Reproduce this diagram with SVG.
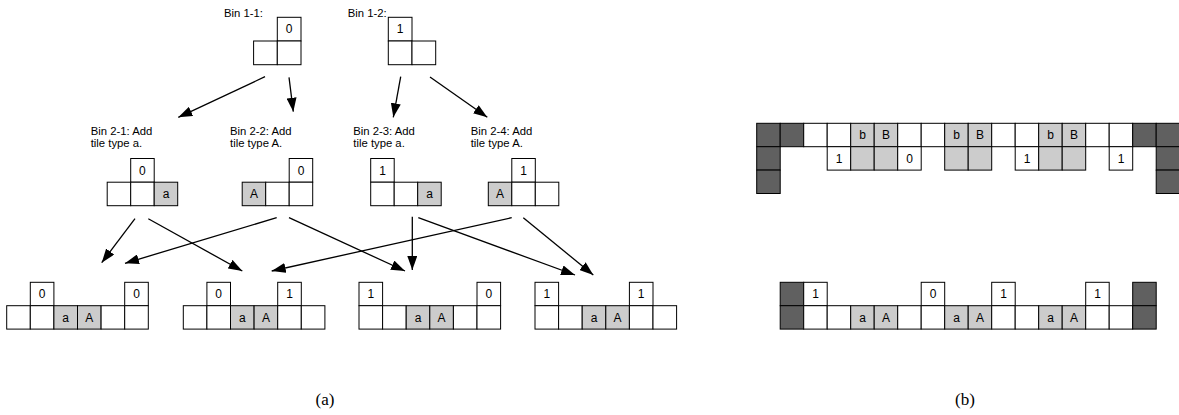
<svg xmlns="http://www.w3.org/2000/svg" width="1179" height="415" viewBox="0 0 1179 415">
<style>
rect{stroke:#000;stroke-width:1;fill:#fff}
rect.g{fill:#ccc}
rect.d{fill:#606060}
text{font-family:"Liberation Sans",Arial,sans-serif;font-size:11.3px;fill:#000}
text.c{text-anchor:middle;font-size:12px}
text.cap{font-family:"Liberation Serif","Times New Roman",serif;font-size:17px;text-anchor:middle}
.conn line{stroke:#000;stroke-width:1.3;marker-end:url(#ah)}
</style>
<defs>
<marker id="ah" markerUnits="userSpaceOnUse" markerWidth="14" markerHeight="10" refX="14" refY="5" orient="auto">
<path d="M0,0 L14,5 L0,10 Z" fill="#000"/>
</marker>
</defs>
<rect x="0" y="0" width="1179" height="415" style="stroke:none;fill:#fff"/>

<g id="bin1-1">
<text x="224" y="16.5">Bin 1-1:</text>
<rect x="277.3" y="17.3" width="23.7" height="23.7"/><text class="c" x="289.2" y="33.3">0</text>
<rect x="253.6" y="41" width="23.7" height="23.7"/>
<rect x="277.3" y="41" width="23.7" height="23.7"/>
</g>
<g id="bin1-2">
<text x="347.7" y="16.5">Bin 1-2:</text>
<rect x="388.3" y="17.3" width="23.7" height="23.7"/><text class="c" x="400.2" y="33.3">1</text>
<rect x="388.3" y="41" width="23.7" height="23.7"/>
<rect x="412" y="41" width="23.7" height="23.7"/>
</g>

<g id="bin2-1">
<text x="90.7" y="135">Bin 2-1: Add</text>
<text x="90.7" y="146.5">tile type a.</text>
<rect x="130.7" y="158.5" width="23.5" height="23.7"/><text class="c" x="142.4" y="174.5">0</text>
<rect x="107.2" y="182.2" width="23.5" height="23.5"/>
<rect x="130.7" y="182.2" width="23.5" height="23.5"/>
<rect class="g" x="154.2" y="182.2" width="23.5" height="23.5"/><text class="c" x="166" y="198.3">a</text>
</g>
<g id="bin2-2">
<text x="230" y="135">Bin 2-2: Add</text>
<text x="230" y="146.5">tile type A.</text>
<rect x="289.2" y="158.5" width="23.5" height="23.7"/><text class="c" x="301" y="174.5">0</text>
<rect class="g" x="242.2" y="182.2" width="23.5" height="23.5"/><text class="c" x="254" y="198.3">A</text>
<rect x="265.7" y="182.2" width="23.5" height="23.5"/>
<rect x="289.2" y="182.2" width="23.5" height="23.5"/>
</g>
<g id="bin2-3">
<text x="353.3" y="135">Bin 2-3: Add</text>
<text x="353.3" y="146.5">tile type a.</text>
<rect x="370.7" y="158.5" width="23.5" height="23.7"/><text class="c" x="382.5" y="174.5">1</text>
<rect x="370.7" y="182.2" width="23.5" height="23.5"/>
<rect x="394.2" y="182.2" width="23.5" height="23.5"/>
<rect class="g" x="417.7" y="182.2" width="23.5" height="23.5"/><text class="c" x="429.5" y="198.3">a</text>
</g>
<g id="bin2-4">
<text x="470.7" y="135">Bin 2-4: Add</text>
<text x="470.7" y="146.5">tile type A.</text>
<rect x="511.8" y="158.5" width="23.5" height="23.7"/><text class="c" x="523.6" y="174.5">1</text>
<rect class="g" x="488.3" y="182.2" width="23.5" height="23.5"/><text class="c" x="500" y="198.3">A</text>
<rect x="511.8" y="182.2" width="23.5" height="23.5"/>
<rect x="535.3" y="182.2" width="23.5" height="23.5"/>
</g>

<g id="res1">
<rect x="30.3" y="282.3" width="23.6" height="23.4"/><text class="c" x="42.1" y="298.3">0</text>
<rect x="124.7" y="282.3" width="23.6" height="23.4"/><text class="c" x="136.5" y="298.3">0</text>
<rect x="6.7" y="305.7" width="23.6" height="23.4"/>
<rect x="30.3" y="305.7" width="23.6" height="23.4"/>
<rect class="g" x="53.9" y="305.7" width="23.6" height="23.4"/><text class="c" x="65.7" y="321.7">a</text>
<rect class="g" x="77.5" y="305.7" width="23.6" height="23.4"/><text class="c" x="89.3" y="321.7">A</text>
<rect x="101.1" y="305.7" width="23.6" height="23.4"/>
<rect x="124.7" y="305.7" width="23.6" height="23.4"/>
</g>
<g id="res2">
<rect x="206.9" y="282.3" width="23.6" height="23.4"/><text class="c" x="218.7" y="298.3">0</text>
<rect x="277.7" y="282.3" width="23.6" height="23.4"/><text class="c" x="289.5" y="298.3">1</text>
<rect x="183.3" y="305.7" width="23.6" height="23.4"/>
<rect x="206.9" y="305.7" width="23.6" height="23.4"/>
<rect class="g" x="230.5" y="305.7" width="23.6" height="23.4"/><text class="c" x="242.3" y="321.7">a</text>
<rect class="g" x="254.1" y="305.7" width="23.6" height="23.4"/><text class="c" x="265.9" y="321.7">A</text>
<rect x="277.7" y="305.7" width="23.6" height="23.4"/>
<rect x="301.3" y="305.7" width="23.6" height="23.4"/>
</g>
<g id="res3">
<rect x="359" y="282.3" width="23.6" height="23.4"/><text class="c" x="370.8" y="298.3">1</text>
<rect x="477" y="282.3" width="23.6" height="23.4"/><text class="c" x="488.8" y="298.3">0</text>
<rect x="359" y="305.7" width="23.6" height="23.4"/>
<rect x="382.6" y="305.7" width="23.6" height="23.4"/>
<rect class="g" x="406.2" y="305.7" width="23.6" height="23.4"/><text class="c" x="418" y="321.7">a</text>
<rect class="g" x="429.8" y="305.7" width="23.6" height="23.4"/><text class="c" x="441.6" y="321.7">A</text>
<rect x="453.4" y="305.7" width="23.6" height="23.4"/>
<rect x="477" y="305.7" width="23.6" height="23.4"/>
</g>
<g id="res4">
<rect x="535" y="282.3" width="23.6" height="23.4"/><text class="c" x="546.8" y="298.3">1</text>
<rect x="629.4" y="282.3" width="23.6" height="23.4"/><text class="c" x="641.2" y="298.3">1</text>
<rect x="535" y="305.7" width="23.6" height="23.4"/>
<rect x="558.6" y="305.7" width="23.6" height="23.4"/>
<rect class="g" x="582.2" y="305.7" width="23.6" height="23.4"/><text class="c" x="594" y="321.7">a</text>
<rect class="g" x="605.8" y="305.7" width="23.6" height="23.4"/><text class="c" x="617.6" y="321.7">A</text>
<rect x="629.4" y="305.7" width="23.6" height="23.4"/>
<rect x="653" y="305.7" width="23.6" height="23.4"/>
</g>

<g class="conn" id="connectors">
<line x1="265" y1="76.7" x2="178.3" y2="117.3"/>
<line x1="289" y1="77.3" x2="293.3" y2="111.7"/>
<line x1="400.7" y1="76.7" x2="393.3" y2="117.3"/>
<line x1="430" y1="77" x2="487.3" y2="117.3"/>
<line x1="135" y1="218.7" x2="101.7" y2="262.7"/>
<line x1="148.3" y1="218.7" x2="242.3" y2="271"/>
<line x1="276.7" y1="217.7" x2="125" y2="263.3"/>
<line x1="289" y1="217.7" x2="405" y2="271"/>
<line x1="412.3" y1="216.7" x2="412.3" y2="270"/>
<line x1="418.3" y1="217.7" x2="575" y2="275"/>
<line x1="511.7" y1="217.7" x2="271.7" y2="271"/>
<line x1="523.3" y1="217.7" x2="593.3" y2="275"/>
</g>

<g id="b-top">
<rect class="d" x="756.7" y="123.3" width="23.5" height="23.4"/>
<rect class="d" x="780.2" y="123.3" width="23.5" height="23.4"/>
<rect x="803.7" y="123.3" width="23.5" height="23.4"/>
<rect x="827.2" y="123.3" width="23.5" height="23.4"/>
<rect class="g" x="850.7" y="123.3" width="23.5" height="23.4"/><text class="c" x="862.5" y="139.3">b</text>
<rect class="g" x="874.2" y="123.3" width="23.5" height="23.4"/><text class="c" x="886" y="139.3">B</text>
<rect x="897.7" y="123.3" width="23.5" height="23.4"/>
<rect x="921.2" y="123.3" width="23.5" height="23.4"/>
<rect class="g" x="944.7" y="123.3" width="23.5" height="23.4"/><text class="c" x="956.5" y="139.3">b</text>
<rect class="g" x="968.2" y="123.3" width="23.5" height="23.4"/><text class="c" x="980" y="139.3">B</text>
<rect x="991.7" y="123.3" width="23.5" height="23.4"/>
<rect x="1015.2" y="123.3" width="23.5" height="23.4"/>
<rect class="g" x="1038.7" y="123.3" width="23.5" height="23.4"/><text class="c" x="1050.5" y="139.3">b</text>
<rect class="g" x="1062.2" y="123.3" width="23.5" height="23.4"/><text class="c" x="1074" y="139.3">B</text>
<rect x="1085.7" y="123.3" width="23.5" height="23.4"/>
<rect x="1109.2" y="123.3" width="23.5" height="23.4"/>
<rect class="d" x="1132.7" y="123.3" width="23.5" height="23.4"/>
<rect class="d" x="1156.2" y="123.3" width="23.5" height="23.4"/>
<rect class="d" x="756.7" y="146.7" width="23.5" height="23.4"/>
<rect x="827.2" y="146.7" width="23.5" height="23.4"/><text class="c" x="839" y="162.7">1</text>
<rect class="g" x="850.7" y="146.7" width="23.5" height="23.4"/>
<rect class="g" x="874.2" y="146.7" width="23.5" height="23.4"/>
<rect x="897.7" y="146.7" width="23.5" height="23.4"/><text class="c" x="909.5" y="162.7">0</text>
<rect class="g" x="944.7" y="146.7" width="23.5" height="23.4"/>
<rect class="g" x="968.2" y="146.7" width="23.5" height="23.4"/>
<rect x="1015.2" y="146.7" width="23.5" height="23.4"/><text class="c" x="1027" y="162.7">1</text>
<rect class="g" x="1038.7" y="146.7" width="23.5" height="23.4"/>
<rect class="g" x="1062.2" y="146.7" width="23.5" height="23.4"/>
<rect x="1109.2" y="146.7" width="23.5" height="23.4"/><text class="c" x="1121" y="162.7">1</text>
<rect class="d" x="1156.2" y="146.7" width="23.5" height="23.4"/>
<rect class="d" x="756.7" y="170.1" width="23.5" height="23.4"/>
<rect class="d" x="1156.2" y="170.1" width="23.5" height="23.4"/>
</g>

<g id="b-bottom">
<rect class="d" x="780.2" y="282.3" width="23.5" height="23.4"/>
<rect x="803.7" y="282.3" width="23.5" height="23.4"/><text class="c" x="815.5" y="298.3">1</text>
<rect x="921.2" y="282.3" width="23.5" height="23.4"/><text class="c" x="933" y="298.3">0</text>
<rect x="991.7" y="282.3" width="23.5" height="23.4"/><text class="c" x="1003.5" y="298.3">1</text>
<rect x="1085.7" y="282.3" width="23.5" height="23.4"/><text class="c" x="1097.5" y="298.3">1</text>
<rect class="d" x="1132.7" y="282.3" width="23.5" height="23.4"/>
<rect class="d" x="780.2" y="305.7" width="23.5" height="23.4"/>
<rect x="803.7" y="305.7" width="23.5" height="23.4"/>
<rect x="827.2" y="305.7" width="23.5" height="23.4"/>
<rect class="g" x="850.7" y="305.7" width="23.5" height="23.4"/><text class="c" x="862.5" y="321.7">a</text>
<rect class="g" x="874.2" y="305.7" width="23.5" height="23.4"/><text class="c" x="886" y="321.7">A</text>
<rect x="897.7" y="305.7" width="23.5" height="23.4"/>
<rect x="921.2" y="305.7" width="23.5" height="23.4"/>
<rect class="g" x="944.7" y="305.7" width="23.5" height="23.4"/><text class="c" x="956.5" y="321.7">a</text>
<rect class="g" x="968.2" y="305.7" width="23.5" height="23.4"/><text class="c" x="980" y="321.7">A</text>
<rect x="991.7" y="305.7" width="23.5" height="23.4"/>
<rect x="1015.2" y="305.7" width="23.5" height="23.4"/>
<rect class="g" x="1038.7" y="305.7" width="23.5" height="23.4"/><text class="c" x="1050.5" y="321.7">a</text>
<rect class="g" x="1062.2" y="305.7" width="23.5" height="23.4"/><text class="c" x="1074" y="321.7">A</text>
<rect x="1085.7" y="305.7" width="23.5" height="23.4"/>
<rect x="1109.2" y="305.7" width="23.5" height="23.4"/>
<rect class="d" x="1132.7" y="305.7" width="23.5" height="23.4"/>
</g>

<g id="captions">
<text class="cap" x="325" y="405">(a)</text>
<text class="cap" x="965" y="405">(b)</text>
</g>
</svg>
